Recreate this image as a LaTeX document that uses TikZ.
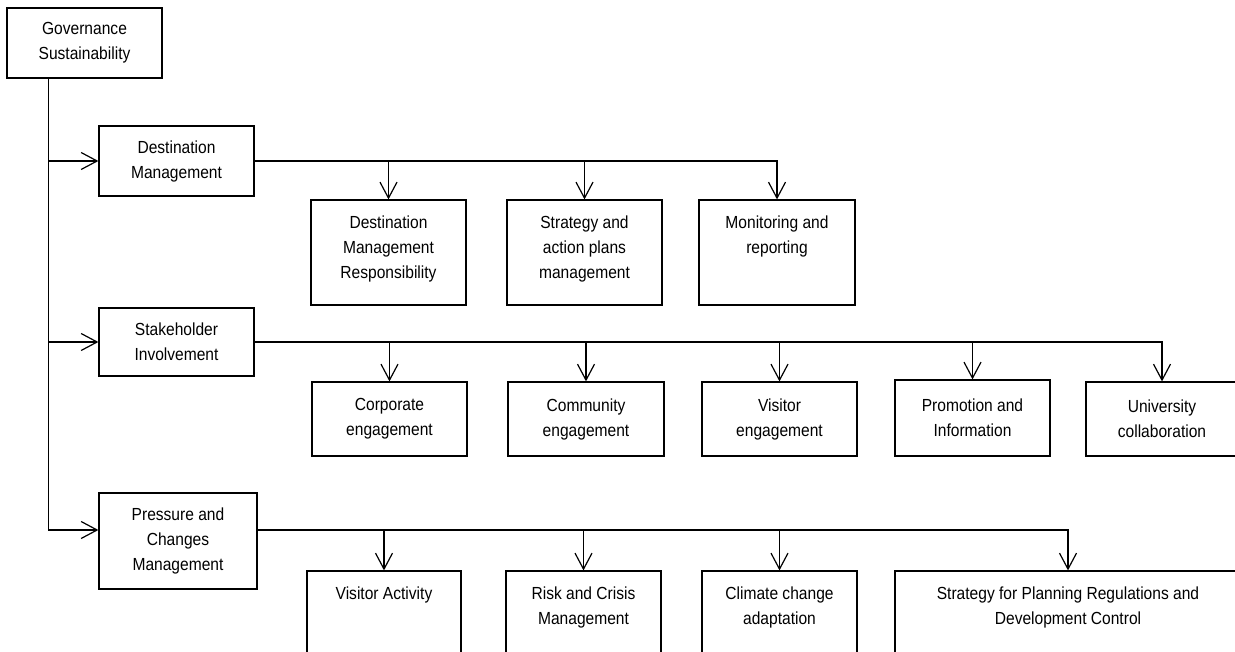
\documentclass[tikz,border=0pt]{standalone}
\usepackage{fontspec}
\setmainfont[FakeStretch=0.89]{Liberation Sans}
\usetikzlibrary{arrows.meta}
\newcommand\mkbox[6]{%
  \node[box, minimum width={#4-#2}, minimum height={#5-#3}] (#1) at ({(#2+#4)/2},{(#3+#5)/2}) {#6};}
\newcommand\toplbl[2]{%
  \node[lbl] (#1T) at ([yshift=-11.5pt]#1.north) {\strut #2};}
\begin{document}
\begin{tikzpicture}[x=1pt,y=-1pt,
  font=\fontsize{17.5}{25}\selectfont,
  box/.style={draw, line width=1.2pt, align=center, inner sep=0pt},
  lbl/.style={anchor=north, inner sep=0pt, align=center},
  arr/.style={line width=1.2pt, -{Straight Barb[length=16pt,width=17pt]}},
  ]
\useasboundingbox (0,0) rectangle (1235,652);
\clip (0,0) rectangle (1235,652);

% main boxes
\mkbox{gov}{7}{8}{162}{78}{Governance\\Sustainability}
\mkbox{dm}{99}{126}{254}{196}{Destination\\Management}
\mkbox{sh}{99}{308}{254}{376}{Stakeholder\\Involvement}
\mkbox{pcm}{99}{493}{257}{589}{Pressure and\\Changes\\Management}

% destination management children
\mkbox{dmr}{311}{200}{466}{305}{}
\mkbox{sap}{507}{200}{662}{305}{}
\mkbox{mr}{699}{200}{855}{305}{}
\toplbl{dmr}{Destination\\Management\\Responsibility}
\toplbl{sap}{Strategy and\\action plans\\management}
\toplbl{mr}{Monitoring and\\reporting}

% stakeholder children
\mkbox{ce}{312}{382}{467}{456}{Corporate\\engagement}
\mkbox{co}{508}{382}{664}{456}{Community\\engagement}
\mkbox{ve}{702}{382}{857}{456}{Visitor\\engagement}
\mkbox{pi}{895}{380}{1050}{456}{Promotion and\\Information}
\mkbox{uc}{1086}{382}{1238}{456}{University\\collaboration}

% pressure children
\mkbox{va}{307}{571}{461}{680}{}
\mkbox{rc}{506}{571}{661}{680}{}
\mkbox{cc}{702}{571}{857}{680}{}
\mkbox{sp}{895}{571}{1241}{680}{}
\toplbl{va}{Visitor Activity}
\toplbl{rc}{Risk and Crisis\\Management}
\toplbl{cc}{Climate change\\adaptation}
\toplbl{sp}{Strategy for Planning Regulations and\\Development Control}

% trunk
\coordinate (t) at ([xshift=42pt]gov.south west);
\coordinate (pw) at ([yshift=11pt]pcm.west);
\draw[arr] (t) |- (pw);
\draw[arr] (t |- dm.west) -- (dm.west);
\draw[arr] (t |- sh.west) -- (sh.west);

% destination bus
\draw[arr] (dm.east) -| (mr.north);
\draw[arr] (dm.east -| dmr.north) -- (dmr.north);
\draw[arr] (dm.east -| sap.north) -- (sap.north);

% stakeholder bus
\draw[arr] (sh.east) -| (uc.north);
\draw[arr] (sh.east -| ce.north) -- (ce.north);
\draw[arr] (sh.east -| co.north) -- (co.north);
\draw[arr] (sh.east -| ve.north) -- (ve.north);
\draw[arr] (sh.east -| pi.north) -- (pi.north);

% pressure bus
\coordinate (pb) at ([yshift=11pt]pcm.east);
\draw[arr] (pb) -| (sp.north);
\draw[arr] (pb -| va.north) -- (va.north);
\draw[arr] (pb -| rc.north) -- (rc.north);
\draw[arr] (pb -| cc.north) -- (cc.north);
\end{tikzpicture}
\end{document}
